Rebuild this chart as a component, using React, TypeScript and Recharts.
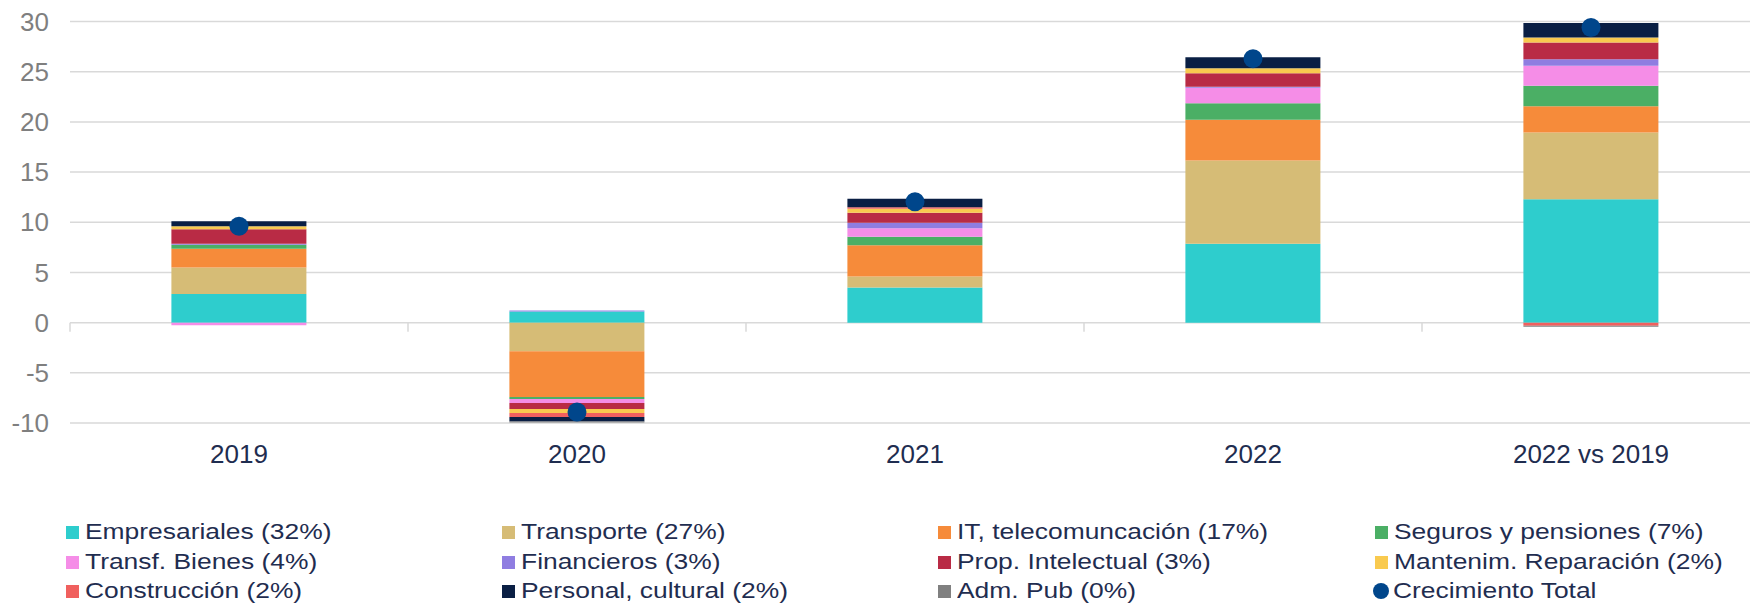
import React from 'react';
import { ComposedChart, Bar, Line, XAxis, YAxis, CartesianGrid, ReferenceLine } from 'recharts';

const categories = ['2019', '2020', '2021', '2022', '2022 vs 2019'];
const empresariales = [2.85, 1.1, 3.5, 7.85, 12.3];
const transporte = [2.65, -2.85, 1.1, 8.3, 6.65];
const itTelecom = [1.85, -4.55, 3.1, 4.05, 2.6];
const seguros = [0.4, -0.2, 0.85, 1.65, 2.05];
const transfBienes = [-0.25, -0.4, 0.85, 1.55, 2.0];
const financieros = [0.1, 0.1, 0.55, 0.1, 0.65];
const propIntelectual = [1.45, -0.6, 1.0, 1.35, 1.65];
const mantenim = [0.3, -0.4, 0.4, 0.5, 0.5];
const construccion = [0, -0.4, 0.15, 0, -0.3];
const personal = [0.5, -0.45, 0.85, 1.1, 1.45];
const admPub = [0, -0.1, 0, 0, -0.1];
const crecimiento = [9.6, -8.9, 12.05, 26.3, 29.4];
const yTicks = [-10, -5, 0, 5, 10, 15, 20, 25, 30];

const seriesList = [
  { key: 'empresariales', name: 'Empresariales (32%)', color: '#2ECDCD', values: empresariales },
  { key: 'transporte', name: 'Transporte (27%)', color: '#D6BC76', values: transporte },
  { key: 'it', name: 'IT, telecomuncación (17%)', color: '#F68B3A', values: itTelecom },
  { key: 'seguros', name: 'Seguros y pensiones (7%)', color: '#4BAF65', values: seguros },
  { key: 'transf', name: 'Transf. Bienes (4%)', color: '#F58DE7', values: transfBienes },
  { key: 'financieros', name: 'Financieros (3%)', color: '#8F7DE1', values: financieros },
  { key: 'prop', name: 'Prop. Intelectual (3%)', color: '#B92B45', values: propIntelectual },
  { key: 'mantenim', name: 'Mantenim. Reparación (2%)', color: '#F9CA4F', values: mantenim },
  { key: 'construccion', name: 'Construcción (2%)', color: '#F0605E', values: construccion },
  { key: 'personal', name: 'Personal, cultural (2%)', color: '#0A1F44', values: personal },
  { key: 'admpub', name: 'Adm. Pub (0%)', color: '#808080', values: admPub },
];
const totalSeries = { key: 'crecimiento', name: 'Crecimiento Total', color: '#00468B', values: crecimiento };

const data = categories.map((c, i) => {
  const row: Record<string, any> = { cat: c, pos: i + 0.5 };
  seriesList.forEach((s) => { row[s.key] = s.values[i]; });
  row[totalSeries.key] = totalSeries.values[i];
  return row;
});

const boundaries = [...categories.map((_, i) => i), categories.length];

const FONT = '"Liberation Sans", Arial, sans-serif';
const NAVY = '#1F2D50';

const legendItems = [
  ...seriesList.map((s) => ({ name: s.name, color: s.color, circle: false })),
  { name: totalSeries.name, color: totalSeries.color, circle: true },
];
const legendCols = [66, 502, 938, 1375];
const legendRows = [532, 562, 591];

export default function App() {
  return (
    <div style={{ position: 'absolute', left: 0, top: 0, width: 1750, height: 606, overflow: 'hidden', background: '#fff' }}>
      <ComposedChart
        width={1760}
        height={606}
        data={data}
        stackOffset="sign"
        barCategoryGap="30%"
        margin={{ top: 21.5, right: 0, bottom: 143, left: 0 }}
      >
        <CartesianGrid vertical={false} stroke="#D9D9D9" strokeWidth={1.5} />
        <XAxis
          dataKey="cat"
          axisLine={false}
          tickLine={false}
          height={40}
          tickMargin={16}
          tick={{ fontSize: 26, fill: NAVY, fontFamily: FONT }}
          interval={0}
        />
        <XAxis
          xAxisId="b"
          dataKey="pos"
          type="number"
          domain={[0, categories.length]}
          allowDataOverflow
          ticks={boundaries}
          padding={{ left: 0, right: 0 }}
          hide
        />
        <YAxis
          width={70}
          domain={[-10, 30]}
          ticks={yTicks}
          axisLine={false}
          tickLine={false}
          tickMargin={15}
          interval={0}
          tick={{ fontSize: 26, fill: '#7F7F7F', fontFamily: FONT }}
        />
        {boundaries.map((b) => (
          <ReferenceLine
            key={'b' + b}
            xAxisId="b"
            ifOverflow="visible"
            segment={[{ x: b, y: 0 }, { x: b, y: -0.9 }]}
            stroke="#D9D9D9"
            strokeWidth={1.5}
          />
        ))}
        {seriesList.map((s) => (
          <Bar
            key={s.key}
            dataKey={s.key}
            name={s.name}
            stackId="a"
            fill={s.color}
            isAnimationActive={false}
          />
        ))}
        <Line
          dataKey={totalSeries.key}
          name={totalSeries.name}
          stroke="none"
          dot={{ r: 9.5, fill: totalSeries.color, stroke: 'none', strokeWidth: 0 }}
          activeDot={false}
          isAnimationActive={false}
        />
      </ComposedChart>
      {legendItems.map((it, i) => {
        const col = i % 4;
        const row = Math.floor(i / 4);
        return (
          <div
            key={it.name}
            style={{
              position: 'absolute',
              left: legendCols[col] - (it.circle ? 2 : 0),
              top: legendRows[row] - 15,
              height: 30,
              display: 'flex',
              alignItems: 'center',
              whiteSpace: 'nowrap',
            }}
          >
            <div
              style={{
                width: it.circle ? 16 : 13,
                height: it.circle ? 16 : 13,
                borderRadius: it.circle ? '50%' : 0,
                background: it.color,
                marginRight: it.circle ? 4 : 6,
              }}
            />
            <span
              style={{
                display: 'inline-block',
                fontFamily: FONT,
                fontSize: 22,
                lineHeight: '30px',
                color: NAVY,
                transform: 'scaleX(1.2)',
                transformOrigin: 'left center',
              }}
            >
              {it.name}
            </span>
          </div>
        );
      })}
    </div>
  );
}
